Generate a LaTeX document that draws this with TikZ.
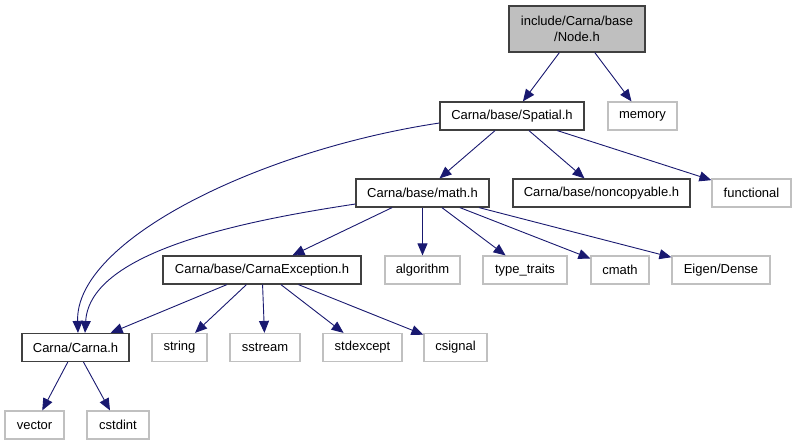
\documentclass[tikz,border=0pt]{standalone}
\usepackage{fontspec}
\setmainfont{Liberation Sans}
\usetikzlibrary{arrows.meta}
\definecolor{edgeblue}{HTML}{191970}
\definecolor{lgray}{HTML}{C0C0C0}
\definecolor{dborder}{HTML}{404040}
\definecolor{nodefill}{HTML}{BFBFBF}
\begin{document}
\begin{tikzpicture}[x=1pt,y=-1pt,
  base/.style={rectangle,inner sep=0pt,minimum height=28pt,font=\fontsize{13}{15.5}\selectfont,line width=1.2pt},
  blk/.style={base,draw=dborder},
  ext/.style={base,draw=lgray},
  edge/.style={draw=edgeblue,line width=0.9pt,-{Triangle[length=12pt,width=10pt]}}]
\useasboundingbox (0,0) rectangle (796,445);
\node[blk,fill=nodefill,minimum width=136pt,minimum height=46pt,align=center] (nodeh) at (577,29) {include/Carna/base\\/Node.h};
\node[blk,minimum width=144pt] (spatial) at (512,116) {Carna/base/Spatial.h};
\node[ext,minimum width=69pt] (memory) at (642.5,116) {memory};
\node[blk,minimum width=133pt] (math) at (422.5,193) {Carna/base/math.h};
\node[blk,minimum width=177pt] (noncop) at (601.5,193) {Carna/base/noncopyable.h};
\node[ext,minimum width=79pt] (functional) at (751.5,193) {functional};
\node[blk,minimum width=198pt] (exc) at (262,270) {Carna/base/CarnaException.h};
\node[ext,minimum width=75pt] (algorithm) at (422.5,270) {algorithm};
\node[ext,minimum width=84pt] (typetraits) at (525,270) {type\_traits};
\node[ext,minimum width=58pt] (cmath) at (620,270) {cmath};
\node[ext,minimum width=98pt] (eigen) at (721,270) {Eigen/Dense};
\node[blk,minimum width=107pt] (carna) at (75.5,347.5) {Carna/Carna.h};
\node[ext,minimum width=55pt] (string) at (179.5,347.5) {string};
\node[ext,minimum width=70pt] (sstream) at (265,347.5) {sstream};
\node[ext,minimum width=79pt] (stdexcept) at (362.5,347.5) {stdexcept};
\node[ext,minimum width=63pt] (csignal) at (455.5,347.5) {csignal};
\node[ext,minimum width=59pt] (vector) at (34.5,425) {vector};
\node[ext,minimum width=62pt] (cstdint) at (118,425) {cstdint};

\draw[edge] (nodeh) -- (spatial);
\draw[edge] (nodeh) -- (memory);
\draw[edge] ([yshift=-7pt]spatial.west) .. controls (260,150) and (75,240) .. ([xshift=2.5pt]carna.north);
\draw[edge] (spatial) -- (math);
\draw[edge] (spatial) -- (noncop);
\draw[edge] (spatial) -- (functional);
\draw[edge] ([yshift=-11pt]math.west) .. controls (250,220) and (90,250) .. ([xshift=9.5pt]carna.north);
\draw[edge] (math) -- (exc);
\draw[edge] (math) -- (algorithm);
\draw[edge] (math) -- (typetraits);
\draw[edge] (math) -- (cmath);
\draw[edge] (math) -- (eigen);
\draw[edge] (exc) -- (carna);
\draw[edge] (exc) -- (string);
\draw[edge] (exc) -- (sstream);
\draw[edge] (exc) -- (stdexcept);
\draw[edge] (exc) -- (csignal);
\draw[edge] (carna) -- (vector);
\draw[edge] (carna) -- (cstdint);
\end{tikzpicture}
\end{document}
